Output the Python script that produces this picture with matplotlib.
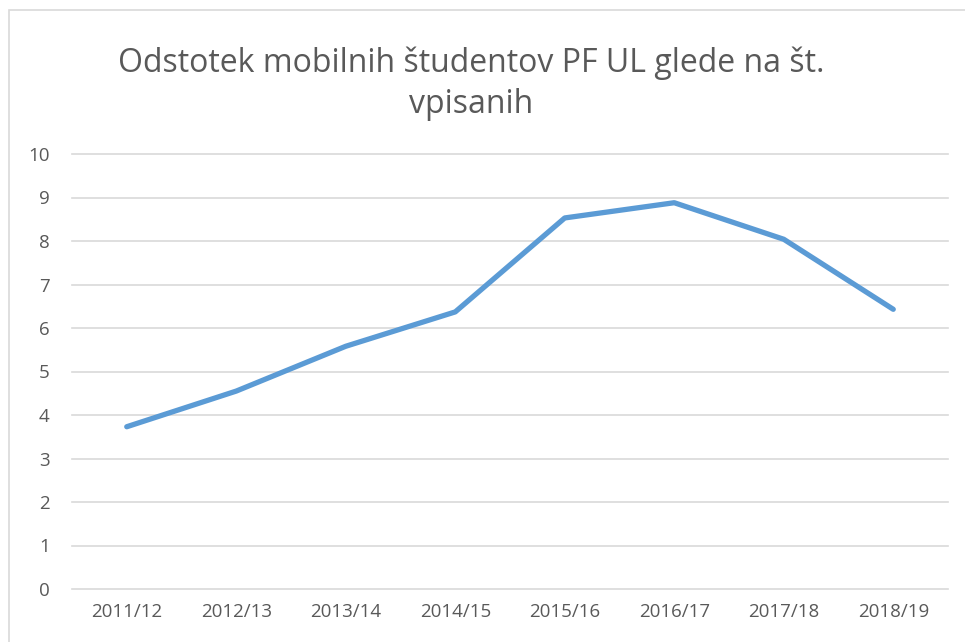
"""Percentage of mobile students at PF UL relative to enrolled students."""

import matplotlib

matplotlib.use("Agg")

import matplotlib.pyplot as plt
from matplotlib.patches import Rectangle


YEARS = ["2011/12", "2012/13", "2013/14", "2014/15",
         "2015/16", "2016/17", "2017/18", "2018/19"]
SHARE = [3.73, 4.55, 5.58, 6.37, 8.53, 8.88, 8.04, 6.43]
Y_TICKS = list(range(0, 11))

TEXT_COLOR = "#595959"
GRID_COLOR = "#D9D9D9"
LINE_COLOR = "#5B9BD5"


def main() -> None:
    plt.rcParams["font.family"] = ["Open Sans", "DejaVu Sans"]

    fig = plt.figure(figsize=(9.65, 6.42), dpi=100)

    # chart area border (cut off at right/bottom like the screenshot)
    fig.patches.append(Rectangle((9 / 965, -0.1), 1.2, 1.1 - 10 / 642,
                                 transform=fig.transFigure, fill=False,
                                 edgecolor=GRID_COLOR, linewidth=1.2))

    ax = fig.add_axes([72 / 965, 53 / 642, 876 / 965, 435 / 642])
    x = list(range(len(YEARS)))
    ax.plot(x, SHARE, color=LINE_COLOR, linewidth=3.8,
            solid_capstyle="round", solid_joinstyle="round", zorder=3)

    ax.set_xlim(-0.5, len(YEARS) - 0.5)
    ax.set_ylim(0, 10)
    ax.set_yticks(Y_TICKS)
    ax.set_xticks(x)
    ax.set_xticklabels(YEARS)
    ax.tick_params(axis="both", length=0, labelsize=13.5, colors=TEXT_COLOR)
    ax.tick_params(axis="y", pad=16)
    ax.tick_params(axis="x", pad=10)

    ax.grid(True, axis="y", color=GRID_COLOR, linewidth=1.2)
    for line in ax.get_ygridlines():
        line.set_clip_on(False)
    ax.set_axisbelow(True)
    for spine in ax.spines.values():
        spine.set_visible(False)

    fig.text(0.488, 1 - 84 / 642, "Odstotek mobilnih študentov PF UL glede na št.\nvpisanih",
             ha="center", va="center", fontsize=23, color=TEXT_COLOR,
             linespacing=1.3)

    fig.savefig("out.png", dpi=100)
    plt.close(fig)


if __name__ == "__main__":
    main()
